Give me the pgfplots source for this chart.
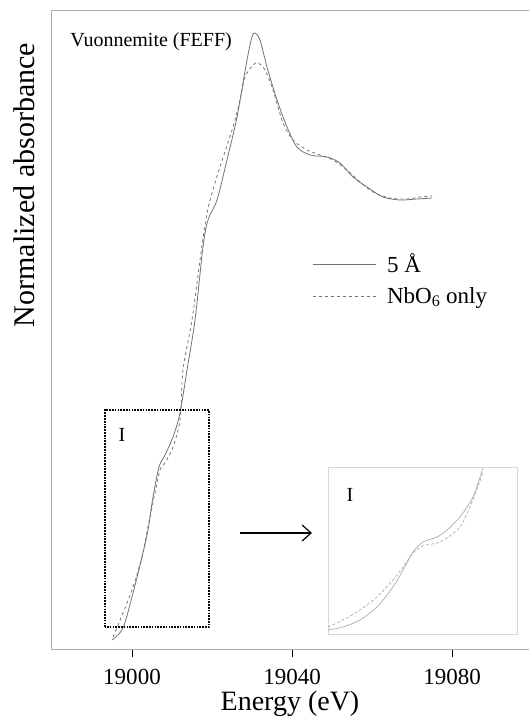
\documentclass[border=0pt]{standalone}
\usepackage{fontspec}
\setmainfont{Liberation Serif}
\usepackage{pgfplots}
\pgfplotsset{compat=1.18}
\usetikzlibrary{arrows.meta}
\definecolor{curve}{RGB}{115,115,115}
\definecolor{frame}{RGB}{175,175,175}
\definecolor{icurve}{RGB}{170,170,170}
\definecolor{iframe}{RGB}{215,215,215}

\pgfplotstableread{
x y
18995 0.09
18997.75 0.21
19000.25 0.56
19002.5 0.92
19004 1.19
19005.25 1.52
19006.75 1.82
19008.25 1.94
19010.25 2.12
19012 2.36
19013.75 2.79
19015.75 3.29
19017.75 4.02
19019 4.29
19021.25 4.49
19023.75 4.89
19026.25 5.32
19028.75 5.89
19030 6.12
19030.75 6.16
19032 6.09
19033.75 5.82
19036.25 5.49
19038.75 5.22
19041.25 5.02
19044.5 4.94
19048.75 4.92
19052 4.86
19055.25 4.72
19058.75 4.62
19062.75 4.52
19067 4.49
19071.25 4.50
19075 4.51
}\solid

\pgfplotstableread{
x y
18995.25 0.12
18997.75 0.36
19000.25 0.62
19002.5 0.92
19004 1.22
19005.75 1.56
19007 1.79
19008.25 1.86
19010.25 2.02
19012 2.29
19012.75 2.79
19015 3.29
19017 3.89
19018.25 4.24
19019.5 4.49
19022 4.82
19025.25 5.22
19027 5.49
19028.25 5.72
19030.25 5.84
19031.5 5.86
19033.25 5.79
19035.25 5.59
19037.75 5.26
19040.25 5.09
19043.75 4.99
19047 4.94
19050.25 4.89
19053.75 4.79
19057 4.67
19060.25 4.57
19064.5 4.51
19068.75 4.50
19072 4.52
19075 4.53
}\dashed

\pgfplotstableread{
x y
0 2.4
7.9 4.2
16.9 8.4
25.9 16.2
34.4 28.1
39.7 38.3
45.0 49.1
50.3 55.1
57.7 58.1
63.0 62.3
69.8 70.1
76.7 82.0
82.0 99.4
}\isolid

\pgfplotstableread{
x y
0 4.2
7.9 8.4
16.9 14.4
25.9 22.2
34.4 32.3
39.7 40.1
45.0 48.5
50.3 52.7
57.7 54.5
63.0 57.5
69.8 64.1
75.1 76.0
82.0 96.4
}\idashed

\begin{document}
\begin{tikzpicture}
\useasboundingbox (-51pt,-68pt) rectangle (478pt,649pt);
\begin{axis}[
  at={(0pt,0pt)}, anchor=south west,
  scale only axis, width=478pt, height=639pt,
  xmin=18979.75, xmax=19099.25, ymin=0, ymax=6.39,
  axis x line*=bottom, axis y line*=left,
  axis line style={-, draw=frame, line width=0.8pt},
  xtick={19000,19040,19080}, ytick=\empty,
  xticklabels={19000,19040,19080},
  scaled x ticks=false,
  tick align=outside, major tick length=8pt,
  tick style={black, line width=0.9pt},
  xticklabel style={font=\fontsize{23}{25}\selectfont, yshift=-9pt},
  xlabel={Energy (eV)},
  xlabel style={font=\fontsize{28}{30}\selectfont, at={(axis description cs:0.5,-0.086)}, anchor=center},
  ylabel={Normalized absorbance},
  ylabel style={font=\fontsize{30}{32}\selectfont, at={(axis description cs:-0.055,0.726)}, anchor=center},
  legend style={draw=none, fill=none, at={(axis description cs:0.54,0.625)}, anchor=north west,
    font=\fontsize{23}{25}\selectfont, row sep=9pt, cells={anchor=west}},
  legend image code/.code={\draw[#1] (0pt,0pt) -- (63pt,0pt);},
]
\addplot[curve, line width=0.8pt, smooth] table[x=x,y=y] {\solid};
\addlegendentry{\hspace{9pt}5 Å}
\addplot[curve, line width=0.8pt, dashed, smooth] table[x=x,y=y] {\dashed};
\addlegendentry{\hspace{9pt}NbO\textsubscript{6} only}
\draw (rel axis cs:0,1) -- (rel axis cs:1,1) [draw=frame, line width=0.8pt];
\node[anchor=west, font=\fontsize{20}{22}\selectfont] at (rel axis cs:0.033,0.951) {Vuonnemite (FEFF)};
\draw[black, line width=1.9pt, dash pattern=on 1.7pt off 1.1pt] (axis cs:18993.25,0.22) rectangle (axis cs:19019.25,2.39);
\node[font=\fontsize{20}{22}\selectfont] at (axis cs:18997.5,2.14) {I};
\draw[black, line width=1.2pt, -{Straight Barb[length=9pt,width=16pt]}] (axis cs:19027,1.16) -- (axis cs:19045,1.16);
\end{axis}
\begin{axis}[
  at={(277pt,15pt)}, anchor=south west,
  scale only axis, width=189pt, height=167pt,
  xmin=0, xmax=100, ymin=0, ymax=100,
  xtick=\empty, ytick=\empty,
  axis line style={draw=iframe, line width=0.8pt},
]
\addplot[icurve, line width=0.7pt, smooth] table[x=x,y=y] {\isolid};
\addplot[icurve, line width=0.7pt, densely dashed, smooth] table[x=x,y=y] {\idashed};
\node[font=\fontsize{20}{22}\selectfont] at (axis cs:11.6,83) {I};
\end{axis}
\end{tikzpicture}
\end{document}
